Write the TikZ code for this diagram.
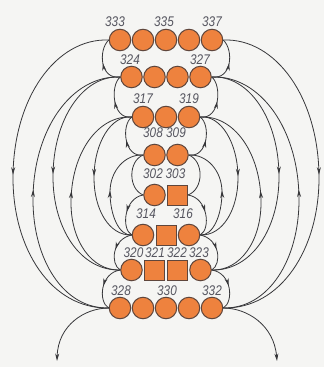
\documentclass[tikz,border=0pt]{standalone}
\usepackage{fontspec}
\newfontfamily\labfont[FakeStretch=0.84]{Liberation Sans}
\usetikzlibrary{arrows.meta,decorations.markings}
\definecolor{orng}{RGB}{238,130,62}
\definecolor{ring}{RGB}{95,70,60}
\definecolor{fline}{RGB}{55,55,58}
\definecolor{labcol}{RGB}{85,85,95}
\definecolor{paper}{RGB}{245,245,243}
\tikzset{
 ball/.style={circle, draw=ring, fill=orng, line width=1pt, minimum size=21.5pt, inner sep=0pt},
 sqbox/.style={rectangle, draw=ring, fill=orng, line width=1pt, minimum size=20pt, inner sep=0pt},
 lab/.style={text=labcol, font=\labfont\itshape\fontsize{14}{14}\selectfont, inner sep=0pt},
 fl/.style={draw=fline, line width=0.8pt},
 tip/.tip={Stealth[length=7.5pt,width=4pt]},
 midarrow/.style={postaction={decorate, decoration={markings, mark=at position #1 with {\arrow{tip}}}}},
 midarrow/.default=0.5,
}
\newcommand\fieldside[3]{%
\begin{scope}[#3]
\draw[fl, midarrow] (#11.#2) .. controls (56,38) and (13,98) .. (13,178) .. controls (13,249) and (51,309) .. (#18.#2);
\draw[fl, midarrow] (#18.#2) .. controls (63,309) and (33,259) .. (33,200) .. controls (33,129) and (72,75) .. (#12.#2);
\draw[fl, midarrow] (#12.#2) .. controls (83,75) and (53,119) .. (53,177) .. controls (53,228) and (80,271) .. (#17.#2);
\draw[fl, midarrow] (#17.#2) .. controls (91,271) and (71,240) .. (71,203) .. controls (71,153) and (98,115) .. (#13.#2);
\draw[fl, midarrow] (#13.#2) .. controls (111,115) and (94,143) .. (94,178) .. controls (94,209) and (109,236) .. (#16.#2);
\draw[fl, midarrow] (#16.#2) .. controls (119,236) and (110,215) .. (110,192) .. controls (110,171) and (125,154) .. (#14.#2);
\draw[fl, midarrow] (#12.#2) .. controls (100,80) and (98,50) .. (#11.#2);
\draw[fl, midarrow] (#13.#2) .. controls (112,120) and (110,85) .. (#12.#2);
\draw[fl, midarrow] (#14.#2) .. controls (124,158) and (121,125) .. (#13.#2);
\draw[fl] (#14.#2) .. controls (128,161) and (128,189) .. (#15.#2);
\draw[fl, midarrow] (#15.#2) .. controls (124,198) and (121,229) .. (#16.#2);
\draw[fl, midarrow] (#16.#2) .. controls (112,239) and (110,264) .. (#17.#2);
\draw[fl, midarrow] (#17.#2) .. controls (100,273) and (98,302) .. (#18.#2);
\draw[fl, -tip] (#18.#2) .. controls (85,308) and (58,325) .. (#1tail);
\end{scope}}
\begin{document}
\begin{tikzpicture}[x=1pt,y=-1pt]
\fill[paper] (0,0) rectangle (324,367);
\useasboundingbox (0,0) rectangle (324,367);
% row 1
\node[ball, alias=L1] (c333) at (120,40) {};
\node[ball] (c334) at (143,40) {};
\node[ball] (c335) at (166,40) {};
\node[ball] (c336) at (189,40) {};
\node[ball, alias=R1] (c337) at (212,40) {};
% row 2
\node[ball, alias=L2] (c324) at (131.5,77) {};
\node[ball] (c325) at (154.5,77) {};
\node[ball] (c326) at (177.5,77) {};
\node[ball, alias=R2] (c327) at (200.5,77) {};
% row 3
\node[ball, alias=L3] (c317) at (143,117) {};
\node[ball] (c318) at (166,117) {};
\node[ball, alias=R3] (c319) at (189,117) {};
% row 4
\node[ball, alias=L4] (c308) at (154.5,155) {};
\node[ball, alias=R4] (c309) at (177.5,155) {};
% row 5
\node[ball, alias=L5] (c302) at (154.5,195) {};
\node[sqbox, alias=R5] (c303) at (177.5,195) {};
% row 6
\node[ball, alias=L6] (c314) at (143,235) {};
\node[sqbox] (c315) at (166,235) {};
\node[ball, alias=R6] (c316) at (189,235) {};
% row 7
\node[ball, alias=L7] (c320) at (131.5,270) {};
\node[sqbox] (c321) at (154.5,270) {};
\node[sqbox] (c322) at (177.5,270) {};
\node[ball, alias=R7] (c323) at (200.5,270) {};
% row 8
\node[ball, alias=L8] (c328) at (120,308) {};
\node[ball] (c329) at (143,308) {};
\node[ball] (c330) at (166,308) {};
\node[ball] (c331) at (189,308) {};
\node[ball, alias=R8] (c332) at (212,308) {};
\coordinate (Ltail) at (57,361);
\coordinate (Rtail) at (277,361);
% field lines
\fieldside{L}{west}{}
\fieldside{R}{east}{xshift=332pt, xscale=-1}
% labels
\node[lab] (t333) at (115,21.5) {333};
\node[lab] (t335) at (164,21.5) {335};
\node[lab] (t337) at (212,21.5) {337};
\node[lab] (t324) at (130,60) {324};
\node[lab] (t327) at (200,60) {327};
\node[lab] (t317) at (143,99) {317};
\node[lab] (t319) at (189,99) {319};
\node[lab] (t308) at (153,133) {308};
\node[lab] (t309) at (176,133) {309};
\node[lab] (t302) at (153,173.5) {302};
\node[lab] (t303) at (175.5,173.5) {303};
\node[lab] (t314) at (146,214) {314};
\node[lab] (t316) at (183,214) {316};
\node[lab] (t320) at (133.5,252.5) {320};
\node[lab] (t321) at (155,252.5) {321};
\node[lab] (t322) at (177,252.5) {322};
\node[lab] (t323) at (199,252.5) {323};
\node[lab] (t328) at (121,291) {328};
\node[lab] (t330) at (167,291) {330};
\node[lab] (t332) at (212,291) {332};
\end{tikzpicture}
\end{document}
